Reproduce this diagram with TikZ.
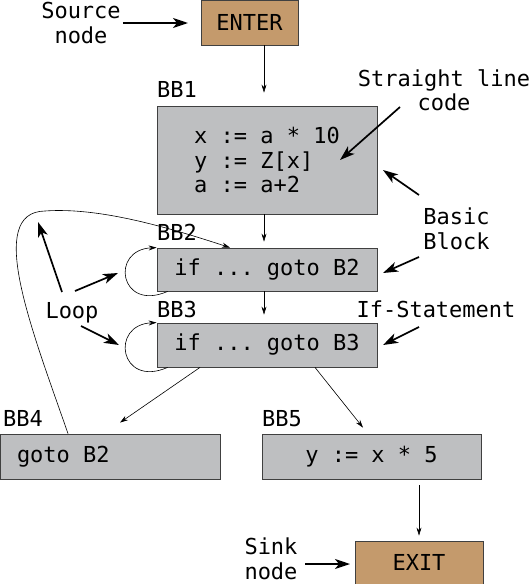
\documentclass[tikz,border=0pt]{standalone}
\usepackage{fontspec}
\setmonofont{DejaVu Sans Mono}
\usetikzlibrary{arrows.meta}
\definecolor{boxgray}{RGB}{190,191,193}
\definecolor{tanbox}{RGB}{196,154,108}
\begin{document}
\begin{tikzpicture}[x=1pt,y=-1pt,
  every node/.style={font=\fontsize{22}{24.5}\selectfont\ttfamily},
  blk/.style={draw=black!75, line width=0.8pt, fill=boxgray, inner sep=0pt},
  term/.style={draw=black!75, line width=0.8pt, fill=tanbox, inner sep=0pt},
  lbl/.style={inner sep=0pt, anchor=base west},
  note/.style={inner sep=2pt, align=center},
  flow/.style={-{Stealth[length=8pt,width=5pt]}, line width=0.6pt},
  pointer/.style={-{Stealth[length=15pt,width=10pt,inset=4pt]}, line width=1.7pt},
]
\useasboundingbox (0,0) rectangle (532,584);

% blocks
\node[term, minimum width=97pt, minimum height=45pt] (enter) at (249.5,22.5) {ENTER};
\node[blk, minimum width=220pt, minimum height=108pt, align=left] (bb1) at (267,160) {x := a * 10\\y := Z[x]\\a := a+2\hspace*{0pt}\kern-0pt};
\node[blk, minimum width=220pt, minimum height=43pt] (bb2) at (267,269.5) {if ... goto B2};
\node[blk, minimum width=220pt, minimum height=44pt] (bb3) at (267,345) {if ... goto B3};
\node[blk, minimum width=220pt, minimum height=45pt] (bb4) at (110,456.5) {\makebox[186pt][l]{goto B2}};
\node[blk, minimum width=219pt, minimum height=45pt] (bb5) at (371.5,456.5) {y := x * 5};
\node[term, minimum width=128pt, minimum height=43pt] (exit) at (419,562.5) {EXIT};

% block labels
\node[lbl] (l1) at (157,97) {BB1};
\node[lbl] (l2) at (157,240) {BB2};
\node[lbl] (l3) at (157,317.5) {BB3};
\node[lbl] (l4) at (3,426) {BB4};
\node[lbl] (l5) at (262,426) {BB5};

% annotations
\node[note] (src) at (81,23) {Source\\node};
\node[note] (slc) at (444,90) {Straight line\\code};
\node[note, align=left] (bas) at (456.5,229) {Basic\\Block};
\node[note] (ifs) at (436,309.5) {If-Statement};
\node[note, anchor=base] (loop) at (72,318) {Loop};
\node[note] (sink) at (271,559) {Sink\\node};

% control flow
\coordinate (ax) at (264,0);
\draw[flow, shorten >=13pt] (ax |- enter.south) -- (ax |- bb1.north);
\draw[flow, shorten >=6pt] (ax |- bb1.south) -- (ax |- bb2.north);
\draw[flow, shorten >=8pt] (ax |- bb2.south) -- (ax |- bb3.north);
\draw[flow] ([xshift=-67pt]bb3.south) -- ([xshift=10pt,yshift=11pt]bb4.north);
\draw[flow] ([xshift=48pt]bb3.south) -- ([xshift=-8.5pt,yshift=6pt]bb5.north);
\draw[flow, shorten <=6pt, shorten >=5pt] (bb5.south -| exit.north) -- (exit.north);
% self loops
\draw[flow] ([xshift=11pt]bb2.south west) .. controls +(-48,21) and +(-47,2) .. (bb2.north west);
\draw[flow] ([xshift=11pt]bb3.south west) .. controls +(-48,21) and +(-47,2) .. (bb3.north west);
% back edge
\draw[flow] ([xshift=-42pt]bb4.north) .. controls (32,330) and (-15,212) .. (45,211)
  .. controls (100,207) and (170,228) .. ([xshift=-37pt]bb2.north);

% annotation pointers
\coordinate (sA) at (188,23);
\coordinate (cA1) at (400,107);  \coordinate (cA2) at (340,160);
\coordinate (bA1) at (419,195);  \coordinate (bA2) at (383,170);
\coordinate (bB1) at (419,257);  \coordinate (bB2) at (383,273);
\coordinate (iA1) at (419,327);  \coordinate (iA2) at (383,345);
\coordinate (lA1) at (62,292);   \coordinate (lA2) at (38,222);
\coordinate (lB1) at (75,291);   \coordinate (lB2) at (118,273);
\coordinate (lC1) at (81,326);   \coordinate (lC2) at (119,345);
\coordinate (kA1) at (305,564);  \coordinate (kA2) at (350,564);
\draw[pointer] (src.east) -- (sA);
\draw[pointer] (cA1) -- (cA2);
\draw[pointer] (bA1) -- (bA2);
\draw[pointer] (bB1) -- (bB2);
\draw[pointer] (iA1) -- (iA2);
\draw[pointer] (lA1) -- (lA2);
\draw[pointer] (lB1) -- (lB2);
\draw[pointer] (lC1) -- (lC2);
\draw[pointer] (kA1) -- (kA2);
\end{tikzpicture}
\end{document}
